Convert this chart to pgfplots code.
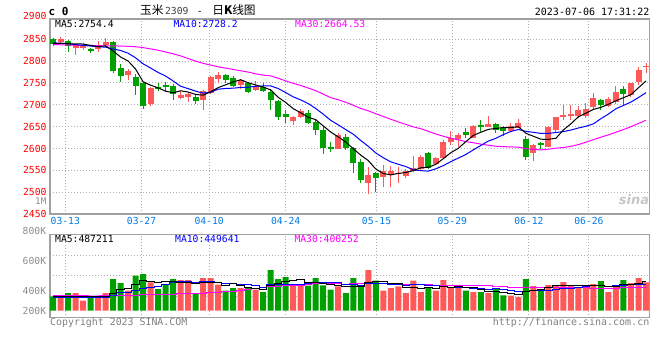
\documentclass[border=0pt]{standalone}
\usepackage{pgfplots}
\pgfplotsset{compat=1.18}
\usepackage{pgfplotstable}
\usepackage{fontspec}
\newfontfamily\monof{DejaVu Sans Mono}
\newfontfamily\cjk{Noto Sans CJK SC}
\newfontfamily\sansf{DejaVu Sans}
\definecolor{cred}{RGB}{255,88,88}
\definecolor{cgreen}{RGB}{0,160,0}
\definecolor{tickblue}{RGB}{0,122,230}
\definecolor{framec}{RGB}{160,160,160}
\definecolor{gridc}{RGB}{175,175,175}
\definecolor{mablue}{RGB}{0,0,255}
\definecolor{mamag}{RGB}{255,0,255}
\definecolor{lblgray}{RGB}{140,140,140}

\pgfplotstableread{
i o h l c v
1 2844 2856 2842 2850 226
3 2830 2839 2815 2836 300
4 2831 2841 2826 2836 170
6 2828 2846 2821 2836 226
7 2836 2854 2833 2844 300
10 2768 2782 2757 2777 340
13 2702 2741 2697 2739 481
17 2716 2732 2713 2722 521
18 2719 2728 2706 2724 521
20 2710 2735 2688 2731 555
21 2727 2766 2725 2764 555
22 2760 2776 2751 2769 441
25 2745 2760 2736 2756 385
27 2735 2754 2732 2743 357
32 2664 2675 2654 2672 430
33 2672 2690 2669 2685 441
38 2599 2636 2598 2630 413
42 2520 2558 2495 2539 691
44 2535 2562 2511 2549 340
45 2539 2560 2511 2549 385
46 2543 2558 2522 2545 413
47 2536 2552 2532 2549 300
48 2549 2583 2547 2555 509
49 2552 2585 2549 2581 317
51 2564 2581 2562 2579 340
52 2578 2619 2575 2614 521
53 2614 2640 2608 2623 396
54 2622 2635 2604 2631 396
56 2625 2654 2623 2651 317
58 2650 2675 2649 2656 300
61 2641 2658 2638 2651 255
62 2648 2668 2646 2659 232
64 2589 2610 2572 2608 419
66 2604 2651 2603 2650 436
67 2642 2673 2636 2671 419
68 2673 2700 2665 2677 487
69 2675 2700 2665 2678 436
70 2675 2697 2669 2688 385
71 2675 2705 2669 2690 385
72 2696 2726 2690 2715 453
74 2697 2717 2694 2713 317
75 2707 2742 2703 2729 419
77 2722 2751 2717 2749 470
78 2753 2787 2745 2780 555
79 2786 2795 2772 2790 481
}\redtab

\pgfplotstableread{
i o h l c v
0 2850 2853 2835 2839 243
2 2847 2849 2822 2835 300
5 2827 2830 2818 2823 243
8 2844 2845 2773 2778 538
9 2785 2793 2753 2767 470
11 2764 2770 2723 2744 594
12 2750 2752 2691 2698 623
14 2741 2750 2731 2736 368
15 2746 2752 2730 2740 453
16 2743 2748 2712 2724 538
19 2719 2724 2703 2709 283
23 2769 2771 2749 2756 340
24 2762 2766 2740 2742 385
26 2750 2753 2727 2730 385
28 2740 2749 2729 2732 317
29 2729 2736 2688 2710 691
30 2708 2711 2665 2671 538
31 2680 2688 2659 2671 572
34 2682 2688 2656 2659 425
35 2660 2665 2632 2643 555
36 2642 2652 2588 2600 430
37 2603 2616 2591 2601 357
39 2627 2634 2597 2600 300
40 2601 2604 2545 2566 555
41 2570 2575 2522 2527 413
43 2545 2547 2501 2533 509
50 2590 2593 2552 2555 396
55 2638 2646 2623 2631 340
57 2654 2665 2635 2650 317
59 2656 2659 2635 2642 368
60 2646 2652 2629 2641 260
63 2622 2629 2574 2581 538
65 2613 2616 2599 2607 351
73 2711 2713 2688 2700 504
76 2736 2743 2700 2725 521
}\greentab

\pgfplotstableread{
i ma5 ma10 ma30 vma5 vma10 vma30
0 2840.5 2842 2838 240 230 255
1 2841 2841 2837.5 240 228 254
2 2840 2840 2837 240 226 253
3 2839.5 2838 2836.5 240 224 252
4 2839.2 2836 2836 247.8 222 251
5 2836.0 2834.5 2836 247.8 220 250
6 2833.2 2833 2835.5 247.8 220 250
7 2835.0 2832 2835 247.8 222 251
8 2823.4 2828 2835 295.4 250 255
9 2809.6 2824.4 2834.5 355.4 301.6 258
10 2800.4 2818.2 2834 374.8 311.3 262
11 2782.0 2807.6 2833 448.4 348.1 266
12 2752.8 2793.9 2831 513.0 380.4 270
13 2745.0 2784.2 2828 501.6 398.5 273
14 2738.8 2774.2 2825 481.2 418.3 276
15 2731.4 2765.9 2821 503.8 439.3 279
16 2727.4 2754.7 2817 492.6 470.5 282
17 2732.2 2742.5 2812 472.2 492.6 285
18 2729.2 2737.1 2806 480.2 490.9 288
19 2723.8 2731.3 2800 463.2 472.2 292
20 2722.0 2726.7 2795 483.6 493.7 298
21 2730.0 2728.7 2791 487.0 489.8 305
22 2739.4 2735.8 2787 471.0 471.6 312
23 2745.8 2737.5 2784 434.8 457.5 320
24 2752.4 2738.1 2781 455.2 459.2 330
25 2757.4 2739.7 2778 421.2 452.4 342
26 2750.6 2740.3 2775 387.2 437.1 355
27 2745.4 2742.4 2771 370.4 420.7 370
28 2740.6 2743.2 2768 365.8 400.3 388
29 2734.2 2743.3 2766.3 427.0 441.1 405.0
30 2717.2 2737.3 2760.7 457.6 439.4 414.8
31 2705.4 2728.0 2754.8 495.0 441.1 426.3
32 2691.2 2718.3 2749.3 509.6 440.0 430.7
33 2681.8 2711.2 2744.3 534.4 450.1 435.4
34 2671.6 2702.9 2738.4 481.2 454.1 443.9
35 2666.0 2691.6 2732.4 484.6 471.1 454.3
36 2651.8 2678.6 2724.5 456.2 475.6 461.1
37 2637.6 2664.4 2716.4 441.6 475.6 463.0
38 2626.6 2654.2 2711.5 436.0 485.2 458.8
39 2614.8 2643.2 2705.9 411.0 446.1 453.1
40 2599.4 2632.7 2698.9 411.0 447.8 460.3
41 2584.8 2618.3 2691.7 407.6 431.9 454.3
42 2572.4 2605.0 2686.4 474.4 458.0 456.5
43 2553.0 2589.8 2679.5 493.6 464.8 457.5
44 2542.8 2578.8 2673.3 501.6 456.3 456.5
45 2539.4 2569.4 2666.9 467.6 439.3 454.3
46 2543.0 2563.9 2660.9 467.6 437.6 450.1
47 2545.0 2558.7 2655.2 389.4 431.9 442.7
48 2549.4 2551.2 2649.5 389.4 441.5 442.3
49 2555.8 2549.3 2645.3 384.8 443.2 443.5
50 2557.0 2548.2 2639.4 387.0 427.3 438.2
51 2563.8 2553.4 2633.2 372.4 420.0 431.0
52 2576.8 2560.9 2628.1 416.6 403.0 433.7
53 2590.4 2569.9 2623.6 394.0 391.7 435.5
54 2600.4 2578.1 2619.9 409.8 397.3 435.9
55 2615.6 2586.3 2615.8 398.6 392.8 434.4
56 2630.0 2596.9 2613.1 394.0 383.2 432.1
57 2637.2 2607.0 2610.0 353.2 384.9 430.8
58 2643.8 2617.1 2607.5 334.0 364.0 430.2
59 2646.0 2623.2 2605.2 328.4 369.1 419.5
60 2648.0 2631.8 2604.2 312.4 355.5 410.2
61 2648.0 2639.0 2603.6 300.0 347.0 399.6
62 2649.8 2643.5 2603.1 283.0 318.1 393.0
63 2634.8 2639.3 2599.7 330.6 332.3 396.3
64 2628.0 2637.0 2598.0 340.8 334.6 396.1
65 2621.2 2634.6 2596.8 359.0 335.7 389.3
66 2621.0 2634.5 2598.4 395.2 347.6 389.5
67 2623.4 2636.6 2600.8 432.6 357.8 391.5
68 2642.6 2638.7 2602.3 422.4 376.5 394.0
69 2656.6 2642.3 2604.9 425.8 383.3 398.5
70 2672.8 2647.0 2609.0 432.6 395.8 392.9
71 2680.8 2650.9 2614.4 422.4 408.8 391.9
72 2689.6 2656.5 2620.3 429.2 430.9 384.0
73 2694.2 2668.4 2625.9 432.6 427.5 383.8
74 2701.2 2678.9 2631.3 408.8 417.3 383.1
75 2709.4 2691.1 2637.3 415.6 424.1 384.2
76 2716.4 2698.6 2643.3 442.8 432.6 387.8
77 2723.2 2706.4 2650.0 446.2 437.7 393.5
78 2739.2 2716.7 2657.5 456.4 444.5 395.0
79 2754.6 2727.9 2664.5 489.2 449.0 400.5
}\matab

\pgfplotsset{
  sinaaxis/.style={
    scale only axis, anchor=south west,
    width=599.3pt,
    xmin=-0.4, xmax=79.44,
    axis line style={draw=framec, line width=1.2pt},
    xtick={1.64,11.8,20.8,31.0,43.1,53.2,63.4,71.4},
    grid=major,
    major grid style={draw=gridc, line width=1pt, dash pattern=on 1pt off 2pt},
    major tick length=0pt,
    tick label style={font=\monof\fontsize{9.7}{10}\selectfont},
    /pgf/number format/assume math mode=true,
    /pgf/number format/1000 sep={},
  },
  wick/.style={draw=none, mark=none,
    error bars/.cd, y dir=plus, y explicit, error mark=none,
    error bar style={draw=#1, line width=1pt, solid}},
  body/.style={draw=none, mark=none,
    error bars/.cd, y dir=both, y explicit, error mark=none,
    error bar style={draw=#1, line width=6pt, solid}},
}

\begin{document}
\begin{tikzpicture}
\path[use as bounding box] (0pt,0pt) rectangle (660pt,360pt);

% ---------- price panel ----------
\begin{axis}[sinaaxis,
  at={(50pt,146pt)}, height=195pt,
  ymin=2450, ymax=2896.5,
  xticklabels={03-13,03-27,04-10,04-24,05-15,05-29,06-12,06-26},
  xticklabel style={text=tickblue},
  ytick={2450,2500,...,2850},
  yticklabel style={text=red},
]
\addplot[wick=cred] table[x=i, y=l, y error plus expr={\thisrow{h}-\thisrow{l}}] {\redtab};
\addplot[wick=cgreen] table[x=i, y=l, y error plus expr={\thisrow{h}-\thisrow{l}}] {\greentab};
\addplot[body=cred] table[x=i, y expr={(\thisrow{o}+\thisrow{c})/2}, y error expr={max(abs(\thisrow{c}-\thisrow{o})/2,1)}] {\redtab};
\addplot[body=cgreen] table[x=i, y expr={(\thisrow{o}+\thisrow{c})/2}, y error expr={max(abs(\thisrow{c}-\thisrow{o})/2,1)}] {\greentab};
\addplot[mamag, line width=1pt, mark=none] table[x=i, y=ma30] {\matab};
\addplot[mablue, line width=1pt, mark=none] table[x=i, y=ma10] {\matab};
\addplot[black, line width=1pt, mark=none] table[x=i, y=ma5] {\matab};
\end{axis}

% ---------- volume panel ----------
\begin{axis}[sinaaxis,
  at={(50pt,42.3pt)}, height=83pt,
  ymin=-118.9, ymax=1290.5,
  xticklabels={},
  ytick={244.5,594.3,940.7}, yticklabels={},
]
\addplot[ybar, bar width=6pt, bar shift=0pt, fill=cred, draw=none] table[x=i, y=v] {\redtab};
\addplot[ybar, bar width=6pt, bar shift=0pt, fill=cgreen, draw=none] table[x=i, y=v] {\greentab};
\addplot[mamag, line width=1pt, mark=none, const plot mark mid] table[x=i, y=vma30] {\matab};
\addplot[mablue, line width=1pt, mark=none, const plot mark mid] table[x=i, y=vma10] {\matab};
\addplot[black, line width=1pt, mark=none, const plot mark mid] table[x=i, y=vma5] {\matab};
\end{axis}

% ---------- texts ----------
\node[anchor=base west, inner sep=0] at (48.5pt,344.3pt) {\monof\bfseries\fontsize{11}{12}\selectfont c 0};
\node[anchor=base west, inner sep=0] at (140pt,345.5pt) {\cjk\fontsize{11.7}{12}\selectfont 玉米\hspace{1.5pt}{\monof\fontsize{9.7}{10}\selectfont\color{darkgray}2309}\hspace{8.5pt}{\monof\fontsize{9.7}{10}\selectfont -}\hspace{9.5pt}日{\bfseries K}线图};
\node[anchor=base east, inner sep=0] at (649.5pt,345pt) {\monof\fontsize{10}{11}\selectfont 2023-07-06 17:31:22};
\node[anchor=east, inner sep=0, text=red] at (46.7pt,344.2pt) {\monof\fontsize{9.7}{10}\selectfont 2900};
\node[anchor=east, inner sep=0, text=lblgray] at (46.5pt,159.3pt) {\monof\fontsize{9.2}{10}\selectfont 1M};

\node[anchor=base west, inner sep=0, text=black] at (55pt,333pt) {\monof\fontsize{9.7}{10}\selectfont MA5:2754.4};
\node[anchor=base west, inner sep=0, text=mablue] at (173.3pt,333pt) {\monof\fontsize{9.7}{10}\selectfont MA10:2728.2};
\node[anchor=base west, inner sep=0, text=mamag] at (295pt,333pt) {\monof\fontsize{9.7}{10}\selectfont MA30:2664.53};

\node[anchor=base west, inner sep=0, text=black] at (55pt,118pt) {\monof\fontsize{9.7}{10}\selectfont MA5:487211};
\node[anchor=base west, inner sep=0, text=mablue] at (175pt,118pt) {\monof\fontsize{9.7}{10}\selectfont MA10:449641};
\node[anchor=base west, inner sep=0, text=mamag] at (294.3pt,118pt) {\monof\fontsize{9.7}{10}\selectfont MA30:400252};

\node[anchor=east, inner sep=0, text=lblgray] at (46.3pt,129.2pt) {\monof\fontsize{9.7}{10}\selectfont 800K};
\node[anchor=east, inner sep=0, text=lblgray] at (46.3pt,99.2pt) {\monof\fontsize{9.7}{10}\selectfont 600K};
\node[anchor=east, inner sep=0, text=lblgray] at (46.3pt,69.2pt) {\monof\fontsize{9.7}{10}\selectfont 400K};
\node[anchor=east, inner sep=0, text=lblgray] at (46.3pt,49.2pt) {\monof\fontsize{9.7}{10}\selectfont 200K};

\node[anchor=base west, inner sep=0, text=gray] at (50pt,34.5pt) {\monof\fontsize{9.9}{10}\selectfont Copyright 2023 SINA.COM};
\node[anchor=base east, inner sep=0, text=gray] at (649.5pt,34.3pt) {\monof\fontsize{10}{11}\selectfont http://finance.sina.com.cn};

\node[anchor=center, inner sep=0, text=black!22] at (634pt,160pt) {\sansf\bfseries\itshape\fontsize{13}{14}\selectfont sina};
\end{tikzpicture}
\end{document}
